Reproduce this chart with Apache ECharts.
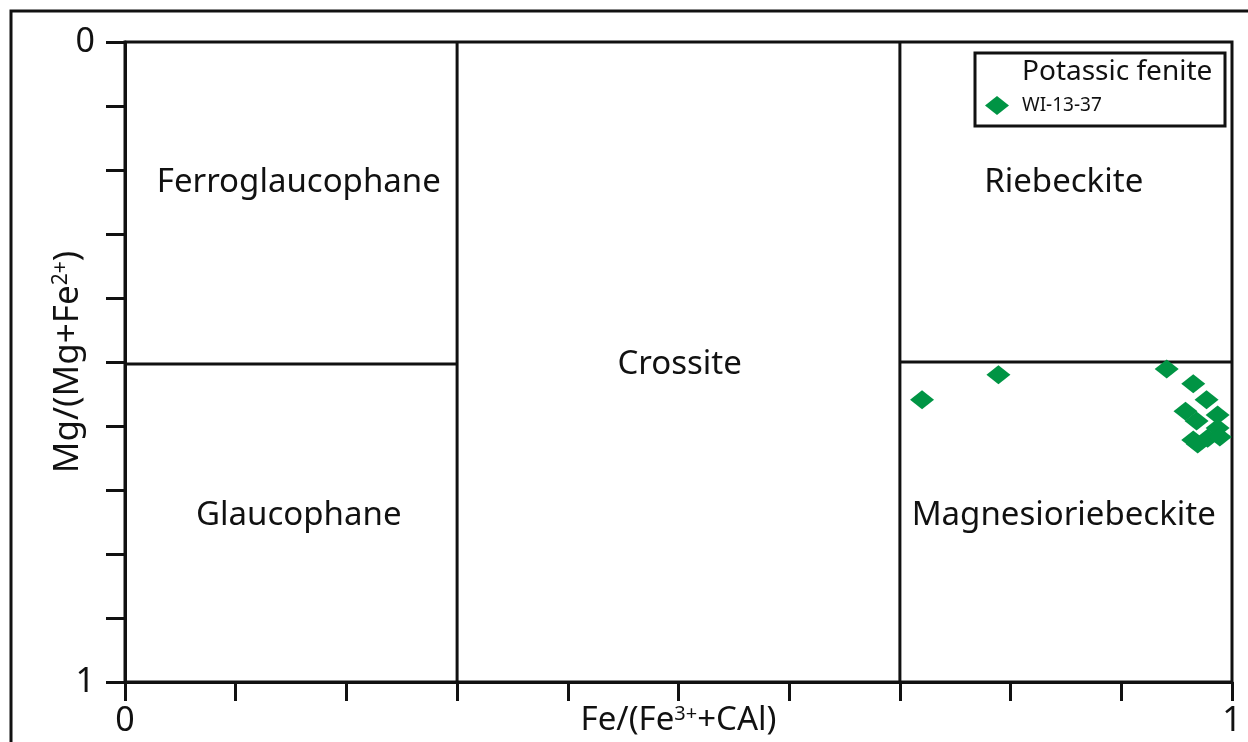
<!DOCTYPE html>
<html>
<head>
<meta charset="utf-8">
<script src="https://cdn.jsdelivr.net/npm/echarts@6/dist/echarts.min.js"></script>
<style>
  html, body { margin: 0; padding: 0; background: #fff; }
  #chart { width: 1248px; height: 742px; }
</style>
</head>
<body>
<div id="chart"></div>
<script>
// Amphibole classification: Fe/(Fe3+ + CAl) vs Mg/(Mg + Fe2+)
const sampleName = 'WI-13-37';
const groupTitle = 'Potassic fenite';

// WI-13-37 analyses
const feRatio = [0.720, 0.789, 0.941, 0.965, 0.977, 0.958, 0.968, 0.987, 0.987, 0.965, 0.969, 0.978, 0.989];
const mgRatio = [0.559, 0.520, 0.511, 0.534, 0.559, 0.577, 0.592, 0.583, 0.603, 0.622, 0.628, 0.619, 0.617];

// Field boundaries
const boundaryA = { x: [0.3, 0.3], y: [0, 1] };
const boundaryB = { x: [0.7, 0.7], y: [0, 1] };
const boundaryC = { x: [0, 0.3], y: [0.503, 0.503] };
const boundaryD = { x: [0.7, 1], y: [0.5, 0.5] };

// Field names and their anchor points
const fieldNames = ['Ferroglaucophane', 'Glaucophane', 'Crossite', 'Riebeckite', 'Magnesioriebeckite'];
const fieldX = [0.157, 0.157, 0.501, 0.848, 0.848];
const fieldY = [0.219, 0.7395, 0.504, 0.219, 0.7395];

// Axis tick labels shown
const tickLabels = { 0: '0', 1: '1' };

const FONT = '"Noto Sans", sans-serif';
const INK = '#111111';
const GREEN = '#009444';
const LW = 3;

const zip = (xs, ys) => xs.map((v, i) => [v, ys[i]]);

const chart = echarts.init(document.getElementById('chart'), null, { renderer: 'canvas' });

const boundarySeries = [boundaryA, boundaryB, boundaryC, boundaryD].map(b => ({
  type: 'line',
  data: zip(b.x, b.y),
  symbol: 'none',
  silent: true,
  lineStyle: { color: INK, width: LW },
  z: 3
}));

const axisCommon = {
  type: 'value',
  min: 0,
  max: 1,
  interval: 0.1,
  splitLine: { show: false },
  nameMoveOverlap: false,
  axisLine: { show: true, onZero: false, lineStyle: { color: INK, width: LW } },
  axisTick: { show: true, inside: false, length: 19, lineStyle: { color: INK, width: LW } },
  axisLabel: {
    color: INK,
    fontFamily: FONT,
    fontSize: 34,
    showMinLabel: true,
    showMaxLabel: true,
    hideOverlap: false,
    formatter: v => {
      const r = Math.round(v * 10) / 10;
      return tickLabels[r] !== undefined ? tickLabels[r] : '';
    }
  }
};

const supStyle = (size) => ({
  fontSize: size, verticalAlign: 'top', color: INK, fontFamily: FONT, padding: [0, 0, 12, 0]
});

chart.setOption({
  backgroundColor: '#fff',
  animation: false,
  grid: {
    left: 125, right: 16, top: 42, bottom: 60,
    outerBoundsMode: 'none',
    containLabel: false,
    show: true, borderColor: INK, borderWidth: LW, backgroundColor: 'transparent'
  },
  xAxis: Object.assign({}, axisCommon, {
    position: 'bottom',
    axisLabel: Object.assign({}, axisCommon.axisLabel, { margin: 22 }),
    name: 'Fe/(Fe{sup|3+}+CAl)',
    nameLocation: 'middle',
    nameGap: 22,
    nameTextStyle: {
      color: INK, fontFamily: FONT, fontSize: 33,
      rich: { sup: supStyle(20) }
    }
  }),
  yAxis: Object.assign({}, axisCommon, {
    inverse: true,
    position: 'left',
    axisLabel: Object.assign({}, axisCommon.axisLabel, { margin: 30 }),
    name: 'Mg/(Mg+Fe{sup|2+})',
    nameLocation: 'middle',
    nameRotate: 90,
    nameGap: 39,
    nameTextStyle: {
      color: INK, fontFamily: FONT, fontSize: 35,
      rich: { sup: supStyle(21) }
    }
  }),
  legend: {
    show: true,
    left: 985,
    top: 96,
    itemWidth: 24,
    itemHeight: 19,
    itemGap: 10,
    padding: 0,
    textStyle: { color: INK, fontFamily: FONT, fontSize: 19, padding: [0, 0, 0, 8] },
    data: [{ name: sampleName, icon: 'diamond' }]
  },
  graphic: [
    // outer frame
    { type: 'rect', shape: { x: 11, y: 11, width: 1400, height: 1000 }, style: { fill: 'none', stroke: INK, lineWidth: LW }, silent: true, z: 0 },
    // legend box
    { type: 'rect', shape: { x: 975, y: 53, width: 250, height: 73 }, style: { fill: '#fff', stroke: INK, lineWidth: LW }, silent: true, z: 1 },
    { type: 'text', left: 1022, top: 58, style: { text: groupTitle, fill: INK, font: '28px ' + FONT }, silent: true, z: 2 }
  ],
  series: boundarySeries.concat([
    {
      name: 'fields',
      type: 'scatter',
      data: zip(fieldX, fieldY).map((p, i) => ({ value: p, label: { formatter: fieldNames[i] } })),
      symbolSize: 1,
      itemStyle: { opacity: 0 },
      silent: true,
      label: {
        show: true, position: 'inside', color: INK, fontFamily: FONT, fontSize: 33,
        textBorderWidth: 0, opacity: 1
      },
      z: 4
    },
    {
      name: sampleName,
      type: 'scatter',
      data: zip(feRatio, mgRatio),
      symbol: 'diamond',
      symbolSize: [24, 19],
      itemStyle: { color: GREEN, opacity: 1 },
      z: 5
    }
  ])
});
</script>
</body>
</html>
